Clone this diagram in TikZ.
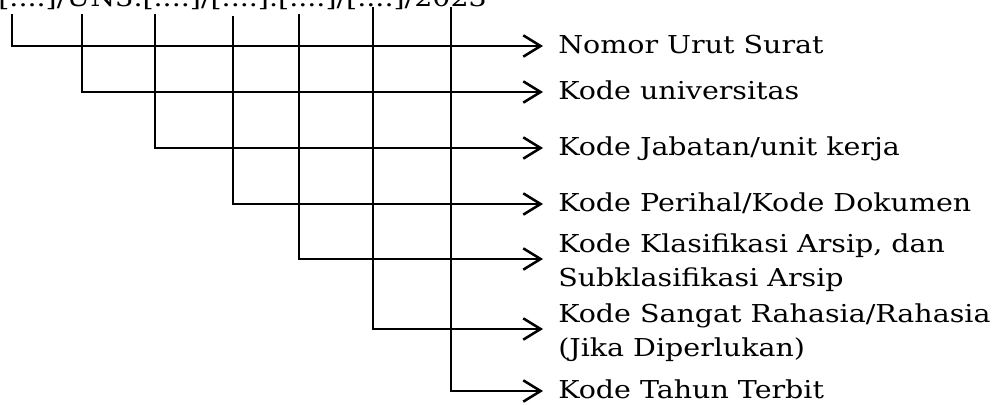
\documentclass[tikz,border=0pt]{standalone}
\usepackage{fontspec}
\setmainfont{DejaVu Serif}[FakeStretch=1.155]
\usetikzlibrary{arrows.meta,calc}
\tikzset{
  conn/.style={line width=1.9pt, -{Straight Barb[length=13pt,width=16pt,line width=1.9pt]}},
  lab/.style={inner sep=0pt, font=\fontsize{18.5pt}{25.5pt}\selectfont, align=left, anchor=base west},
}
\begin{document}
\begin{tikzpicture}[x=0.75pt,y=-0.75pt]
\useasboundingbox (0,0) rectangle (1008,404);
\clip (0,0) rectangle (1008,404);
\node[lab, anchor=base east] (hdr) at (487,6) {[....]/UN3.[....]/[....].[....]/[....]/2023};
% tops of the vertical lines
\coordinate (t1) at (12,14);
\coordinate (t2) at (82,14);
\coordinate (t3) at (155,14);
\coordinate (t4) at (233,16);
\coordinate (t5) at (299,14);
\coordinate (t6) at (373,7);
\coordinate (t7) at (451,7);
% arrow tips
\coordinate (a1) at (543,46);
\coordinate (a2) at (543,92);
\coordinate (a3) at (543,148);
\coordinate (a4) at (543,204);
\coordinate (a5) at (543,259);
\coordinate (a6) at (543,329);
\coordinate (a7) at (543,391);
% labels
\node[lab] (l1) at ($(a1)+(15,7)$) {Nomor Urut Surat};
\node[lab] (l2) at ($(a2)+(15,7)$) {Kode universitas};
\node[lab] (l3) at ($(a3)+(15,7)$) {Kode Jabatan/unit kerja};
\node[lab] (l4) at ($(a4)+(15,7)$) {Kode Perihal/Kode Dokumen};
\node[lab] (l5) at ($(a5)+(15,27)$) {Kode Klasifikasi Arsip, dan\\Subklasifikasi Arsip};
\node[lab] (l6) at ($(a6)+(15,27)$) {Kode Sangat Rahasia/Rahasia\\(Jika Diperlukan)};
\node[lab] (l7) at ($(a7)+(15,7)$) {Kode Tahun Terbit};
% connectors
\draw[conn] (t1) |- (a1);
\draw[conn] (t2) |- (a2);
\draw[conn] (t3) |- (a3);
\draw[conn] (t4) |- (a4);
\draw[conn] (t5) |- (a5);
\draw[conn] (t6) |- (a6);
\draw[conn] (t7) |- (a7);
\end{tikzpicture}
\end{document}
